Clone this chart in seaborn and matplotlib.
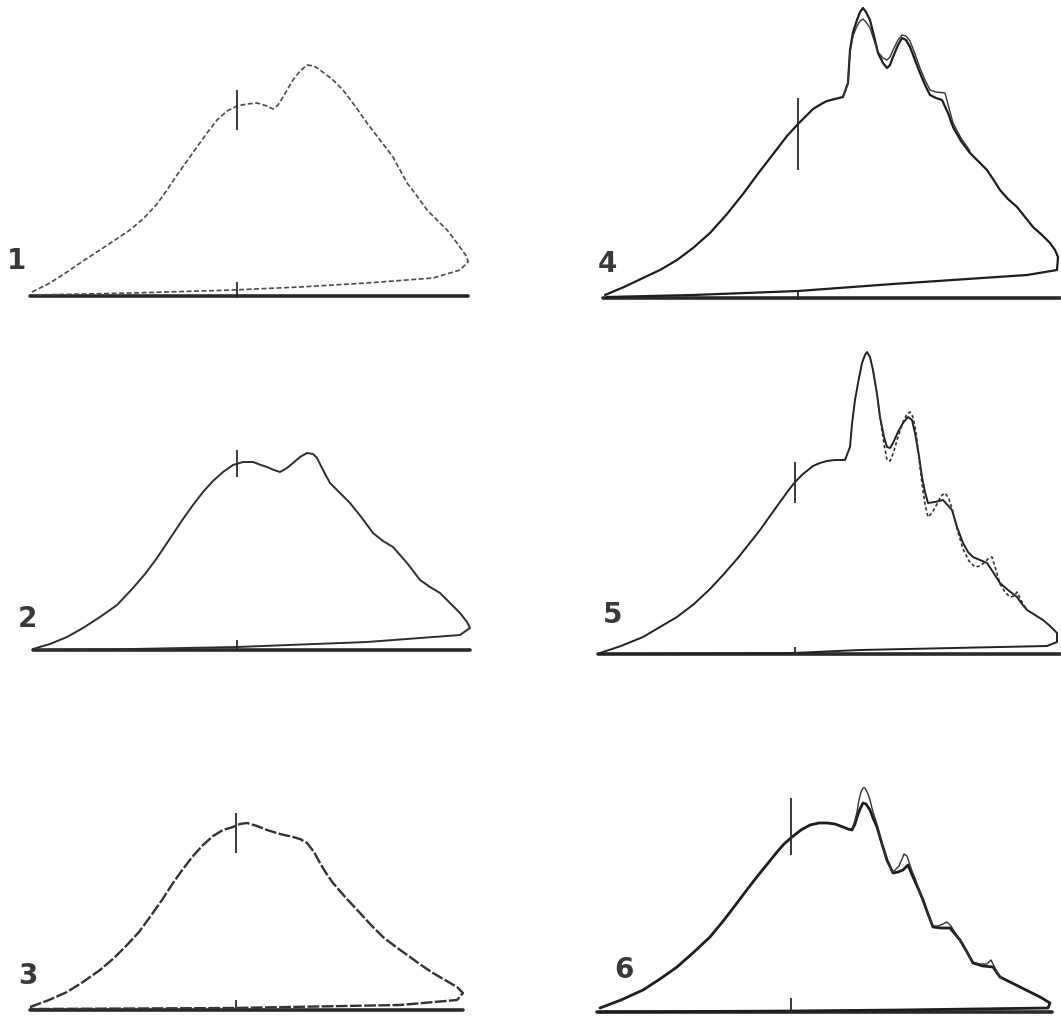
import matplotlib
matplotlib.use("Agg")
import matplotlib.pyplot as plt
import seaborn as sns
import pandas as pd

# ---------------- data (x: offset from reference mark, y: height above baseline) ----------------
labels = ["1", "2", "3", "4", "5", "6"]

p1_x = [-205, -187, -170, -154, -137, -122, -107, -93, -80, -70, -60, -50, -40, -30, -20, -10, 0, 10, 20, 30, 36, 41, 46, 56, 63, 70, 77, 83, 95, 106, 118, 130, 143, 156, 170, 180, 190, 200, 210, 220, 230, 231, 223, 196, 130, 63, -4, -104, -204]
p1_y = [4, 13, 24, 35, 46, 56, 66, 78, 92, 106, 121, 135, 149, 163, 176, 185, 190, 192, 193, 190, 187, 191, 199, 216, 225, 231, 230, 226, 217, 206, 190, 173, 156, 139, 113, 100, 86, 76, 66, 53, 39, 34, 26, 18, 13, 9, 6, 3, 1]

p2_x = [-204, -187, -170, -154, -137, -120, -104, -92, -80, -72, -64, -54, -44, -34, -24, -14, -4, 6, 16, 24, 30, 37, 43, 50, 56, 63, 70, 76, 80, 86, 93, 103, 113, 125, 136, 146, 156, 163, 170, 177, 183, 193, 203, 213, 223, 230, 233, 223, 130, 0, -104, -204]
p2_y = [1, 6, 13, 22, 33, 45, 62, 76, 92, 104, 116, 131, 145, 158, 169, 178, 185, 188, 188, 185, 183, 180, 178, 182, 187, 193, 197, 196, 192, 180, 167, 157, 147, 132, 117, 109, 103, 95, 87, 78, 70, 63, 57, 47, 37, 28, 22, 15, 8, 3, 1, 0]

p3_x = [-206, -187, -169, -153, -136, -122, -109, -97, -86, -74, -63, -53, -43, -33, -23, -13, -3, 4, 11, 21, 31, 44, 57, 64, 71, 78, 84, 90, 97, 110, 124, 135, 147, 160, 174, 185, 197, 209, 221, 227, 221, 164, -3, -206]
p3_y = [3, 10, 18, 28, 40, 52, 65, 78, 93, 110, 127, 141, 154, 165, 174, 180, 183, 186, 187, 184, 180, 176, 173, 171, 167, 158, 147, 137, 127, 112, 97, 85, 73, 63, 53, 45, 37, 30, 23, 17, 10, 5, 2, 1]

p4_x = [-193, -174, -155, -138, -121, -105, -88, -71, -55, -41, -31, -21, -11, 0, 9, 15, 25, 29, 37, 45, 50, 52, 55, 59, 62, 65, 68, 72, 76, 80, 85, 89, 92, 95, 100, 104, 108, 112, 117, 122, 127, 132, 138, 144, 150, 155, 163, 172, 180, 189, 195, 202, 210, 219, 227, 235, 244, 252, 257, 260, 259, 229, 95, 0, -105, -191]
p4_y = [3, 11, 20, 28, 38, 50, 65, 84, 104, 123, 136, 149, 162, 174, 183, 189, 195, 197, 199, 201, 215, 248, 266, 278, 286, 290, 286, 278, 262, 245, 235, 230, 233, 241, 253, 260, 258, 251, 238, 225, 213, 203, 200, 198, 185, 171, 157, 145, 137, 128, 119, 108, 99, 91, 81, 71, 63, 55, 48, 41, 28, 23, 14, 7, 3, 1]
p4b_x = [45, 50, 52, 55, 59, 62, 65, 68, 72, 76, 80, 85, 89, 92, 95, 100, 104, 108, 112, 117, 122, 127, 132, 138, 147, 155, 163, 172]
p4b_y = [201, 215, 246, 262, 272, 277, 279, 276, 270, 258, 246, 240, 238, 241, 248, 258, 263, 262, 257, 244, 230, 218, 208, 206, 205, 175, 160, 147]

p5_x = [-195, -174, -152, -135, -118, -101, -85, -72, -58, -46, -35, -25, -15, -7, 0, 8, 18, 25, 32, 40, 50, 55, 57, 60, 64, 67, 70, 72, 75, 78, 82, 85, 89, 92, 95, 98, 103, 108, 113, 117, 120, 124, 127, 130, 133, 140, 148, 157, 162, 168, 173, 178, 185, 192, 198, 205, 213, 222, 227, 232, 240, 248, 255, 262, 262, 252, 65, -2, -195]
p5_y = [1, 8, 17, 27, 37, 50, 65, 79, 95, 110, 124, 138, 152, 163, 172, 180, 188, 191, 193, 194, 194, 207, 230, 254, 276, 291, 299, 302, 297, 284, 260, 237, 217, 207, 206, 211, 222, 231, 237, 234, 221, 198, 177, 162, 151, 152, 154, 144, 127, 111, 102, 97, 94, 91, 82, 71, 64, 57, 50, 44, 39, 34, 28, 21, 12, 8, 4, 1, 0]
p5b_x = [78, 82, 85, 89, 92, 95, 98, 103, 108, 112, 115, 118, 121, 124, 127, 130, 133, 137, 142, 146, 150, 154, 158, 163, 168, 174, 180, 185, 190, 194, 197, 201, 205, 210, 215, 219, 222, 227, 232]
p5b_y = [284, 260, 237, 210, 194, 193, 200, 217, 232, 240, 242, 237, 222, 196, 170, 150, 137, 141, 150, 158, 161, 155, 142, 122, 105, 93, 87, 88, 92, 96, 97, 84, 70, 62, 57, 58, 62, 52, 44]

p6_x = [-191, -170, -148, -131, -114, -97, -81, -67, -54, -42, -31, -22, -14, -7, 1, 10, 19, 28, 36, 44, 52, 57, 61, 64, 66, 69, 72, 75, 79, 82, 86, 91, 96, 102, 107, 112, 117, 122, 127, 132, 137, 142, 150, 159, 164, 169, 176, 182, 192, 202, 209, 219, 229, 239, 249, 259, 257, 109, 0, -191]
p6_y = [4, 12, 22, 33, 45, 60, 75, 92, 109, 125, 139, 150, 160, 168, 175, 182, 187, 189, 189, 188, 185, 183, 182, 188, 195, 203, 209, 208, 202, 194, 185, 168, 152, 139, 140, 142, 147, 135, 124, 112, 98, 85, 84, 84, 78, 72, 60, 49, 46, 45, 35, 30, 25, 20, 15, 9, 4, 2, 1, 0]
p6b_x = [61, 64, 66, 68, 70, 72, 74, 77, 79, 82, 86, 91, 96, 102, 108, 111, 113, 116, 118, 121, 124, 128, 132, 137, 142, 147, 152, 156, 160, 165, 170, 176, 182, 189, 196, 200, 204, 207, 210]
p6b_y = [182, 192, 200, 212, 220, 224, 224, 218, 212, 200, 188, 168, 150, 140, 146, 153, 158, 156, 150, 141, 134, 122, 110, 97, 86, 86, 88, 90, 86, 78, 70, 60, 50, 48, 48, 52, 44, 38, 35]

# baseline spans (x extent of the baseline) per panel
base_x = [[-207, 231], [-204, 233], [-206, 227], [-195, 262], [-197, 265], [-194, 261]]
# reference mark: upper bar (bottom, top) and lower tick (bottom, top)
mark_upper = [[166, 206], [173, 200], [157, 197], [128, 200], [151, 192], [157, 214]]
mark_lower = [[-2, 14], [0, 10], [0, 10], [-2, 8], [0, 7], [-1, 14]]
# label positions
label_x = [-220, -210, -208, -191, -182, -167]
label_y = [35, 31, 34, 34, 39, 42]

main_x = [p1_x, p2_x, p3_x, p4_x, p5_x, p6_x]
main_y = [p1_y, p2_y, p3_y, p4_y, p5_y, p6_y]
extra = [None, None, None, (p4b_x, p4b_y), (p5b_x, p5b_y), (p6b_x, p6b_y)]

# ---------------- layout (pixels) ----------------
W, H = 1061, 1017
# panel rectangles: left, top, right, bottom ; origin (mark x, baseline y)
rects = [(0, 0, 530, 320), (0, 320, 530, 676), (0, 676, 530, 1017),
         (530, 0, 1061, 320), (530, 320, 1061, 676), (530, 676, 1061, 1017)]
origins = [(237, 296), (237, 650), (236, 1010), (798, 298), (795, 654), (791, 1012)]

main_style = [dict(lw=1.2, ls=(0, (3, 1.5)), color="#4a4a4a"),
              dict(lw=1.4, ls="-", color="#2e2e2e"),
              dict(lw=1.7, ls=(0, (5, 1)), color="#333333"),
              dict(lw=1.6, ls="-", color="#1e1e1e"),
              dict(lw=1.4, ls="-", color="#222222"),
              dict(lw=2.0, ls="-", color="#1e1e1e")]
extra_style = [None, None, None,
               dict(lw=1.0, ls="-", color="#333333"),
               dict(lw=1.2, ls=(0, (2, 1.5)), color="#333333"),
               dict(lw=1.0, ls="-", color="#333333")]

sns.set_theme(style="white")
fig = plt.figure(figsize=(W / 100, H / 100), dpi=100)
fig.patch.set_facecolor("white")

for i in range(6):
    l, t, r, b = rects[i]
    ox, oy = origins[i]
    ax = fig.add_axes([l / W, 1 - b / H, (r - l) / W, (b - t) / H])
    ax.set_xlim(l - ox, r - ox)
    ax.set_ylim(oy - b, oy - t)
    ax.set_axis_off()

    # baseline
    bdf = pd.DataFrame({"x": base_x[i], "y": [0, 0]})
    sns.lineplot(data=bdf, x="x", y="y", ax=ax, color="#2a2a2a", lw=2.6,
                 sort=False, estimator=None)
    # main trace
    df = pd.DataFrame({"x": main_x[i], "y": main_y[i]})
    st = main_style[i]
    sns.lineplot(data=df, x="x", y="y", ax=ax, sort=False, estimator=None,
                 color=st["color"], lw=st["lw"], linestyle=st["ls"],
                 solid_joinstyle="round", dash_joinstyle="round")
    # overlapping second trace
    if extra[i] is not None:
        st2 = extra_style[i]
        df2 = pd.DataFrame({"x": extra[i][0], "y": extra[i][1]})
        sns.lineplot(data=df2, x="x", y="y", ax=ax, sort=False, estimator=None,
                     color=st2["color"], lw=st2["lw"], linestyle=st2["ls"],
                     solid_joinstyle="round", dash_joinstyle="round")
    # reference marks
    ax.vlines(0, mark_upper[i][0], mark_upper[i][1], color="#2a2a2a", lw=1.3)
    ax.vlines(0, mark_lower[i][0], mark_lower[i][1], color="#2a2a2a", lw=1.3)
    # panel number
    ax.text(label_x[i], label_y[i], labels[i], ha="center", va="center",
            fontsize=20, fontweight="bold", color="#3a3a3a",
            family=["DejaVu Sans"])

fig.savefig("out.png", dpi=100, facecolor="white")
